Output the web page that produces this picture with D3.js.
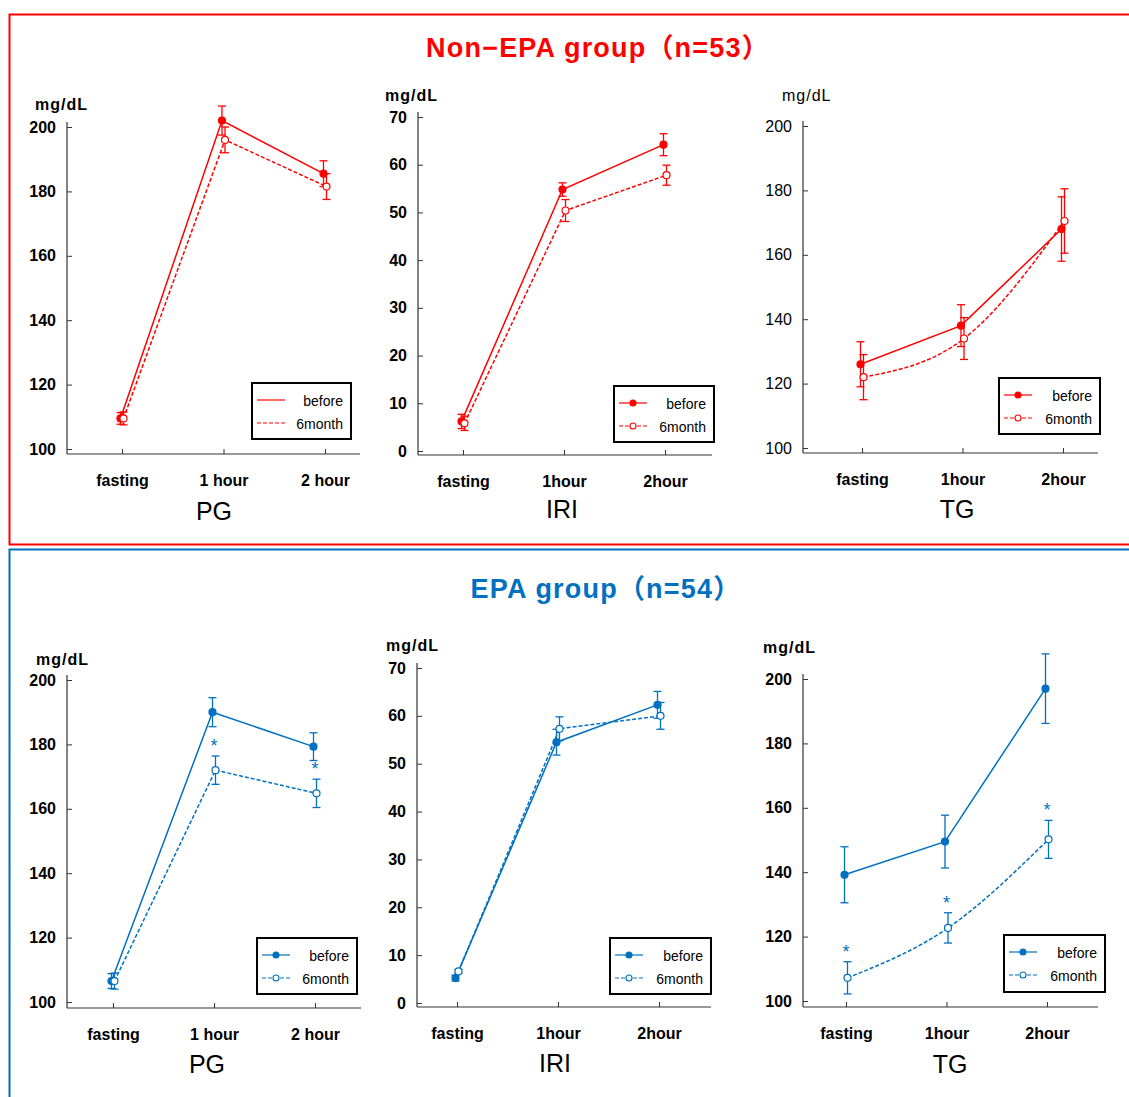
<!DOCTYPE html>
<html>
<head>
<meta charset="utf-8">
<script src="https://cdn.jsdelivr.net/npm/d3@7"></script>
<style>
  body { margin: 0; background: #fff; }
  svg { display: block; font-family: "Liberation Sans", Arial, sans-serif; }
</style>
</head>
<body>
<svg width="1129" height="1097"></svg>
<script>
// categories and ticks
const pgCategories = ["fasting", "1 hour", "2 hour"];
const hourCategories = ["fasting", "1hour", "2hour"];
const pgTicks = [100, 120, 140, 160, 180, 200];
const iriTicks = [0, 10, 20, 30, 40, 50, 60, 70];
const tgTicks = [100, 120, 140, 160, 180, 200];
const seriesNames = ["before", "6month"];

// Non-EPA group (n=53)
const nonEpaPgBefore = [109.5, 202, 185.5];
const nonEpaPgBeforeErr = [1.8, 4.5, 4];
const nonEpaPg6m = [109.5, 196, 181.5];
const nonEpaPg6mErr = [2, 4, 4];
const nonEpaIriBefore = [6.2, 54.8, 64.2];
const nonEpaIriBeforeErr = [1.5, 1.4, 2.3];
const nonEpaIri6m = [5.8, 50.4, 57.8];
const nonEpaIri6mErr = [1.5, 2.3, 2.1];
const nonEpaTgBefore = [126, 138, 168];
const nonEpaTgBeforeErr = [7, 6.5, 10];
const nonEpaTg6m = [122, 134, 170.5];
const nonEpaTg6mErr = [7, 6.5, 10];

// EPA group (n=54)
const epaPgBefore = [106.5, 190, 179.3];
const epaPgBeforeErr = [2.3, 4.5, 4.3];
const epaPg6m = [106.5, 172, 164.8];
const epaPg6mErr = [2.5, 4.4, 4.4];
const epaPgSig = [false, true, true];
const epaIriBefore = [5.2, 54.5, 62.3];
const epaIriBeforeErr = [0.6, 2.7, 2.8];
const epaIri6m = [6.6, 57.3, 60];
const epaIri6mErr = [0.4, 2.5, 2.8];
const epaTgBefore = [139.2, 149.5, 197];
const epaTgBeforeErr = [8.7, 8.2, 10.8];
const epaTg6m = [107.2, 122.7, 150.2];
const epaTg6mErr = [5, 4.7, 5.9];
const epaTgSig = [true, true, true];

const RED = "#ff0000";
const BLUE = "#0070c0";

const svg = d3.select("svg");

// group frames
svg.append("rect").attr("x", 9.5).attr("y", 14.5).attr("width", 1140).attr("height", 530)
  .attr("fill", "none").attr("stroke", RED).attr("stroke-width", 2);
svg.append("rect").attr("x", 9.5).attr("y", 549.5).attr("width", 1140).attr("height", 600)
  .attr("fill", "none").attr("stroke", BLUE).attr("stroke-width", 2);

// group titles
svg.append("text").attr("x", 598).attr("y", 57).attr("text-anchor", "middle")
  .attr("fill", RED).style("font-family", "'Liberation Sans', 'Noto Sans CJK JP', sans-serif")
  .style("font-weight", "bold").style("font-size", "27px").style("letter-spacing", "1.2px")
  .text("Non−EPA group（n=53）");
svg.append("text").attr("x", 606).attr("y", 598).attr("text-anchor", "middle")
  .attr("fill", BLUE).style("font-family", "'Liberation Sans', 'Noto Sans CJK JP', sans-serif")
  .style("font-weight", "bold").style("font-size", "27px").style("letter-spacing", "1.2px")
  .text("EPA group（n=54）");

const panels = [
  { name: "PG", color: RED, cats: pgCategories, ticks: pgTicks,
    before: nonEpaPgBefore, beforeErr: nonEpaPgBeforeErr, after: nonEpaPg6m, afterErr: nonEpaPg6mErr,
    axisX: 67, right: 360, yTop: 127, yBot: 449, axisY: 454, xF: 122, xL: 325,
    unit: [35, 110], title: [214, 520], legend: [252, 383, 99, 56], legendMarkers: false, bold: true },
  { name: "IRI", color: RED, cats: hourCategories, ticks: iriTicks,
    before: nonEpaIriBefore, beforeErr: nonEpaIriBeforeErr, after: nonEpaIri6m, afterErr: nonEpaIri6mErr,
    axisX: 418, right: 712, yTop: 117, yBot: 451, axisY: 455, xF: 463, xL: 665,
    unit: [385, 101], title: [562, 518], legend: [614, 386, 100, 56], legendMarkers: true, bold: true },
  { name: "TG", color: RED, cats: hourCategories, ticks: tgTicks,
    before: nonEpaTgBefore, beforeErr: nonEpaTgBeforeErr, after: nonEpaTg6m, afterErr: nonEpaTg6mErr,
    axisX: 803, right: 1098, yTop: 126, yBot: 448, axisY: 453, xF: 862, xL: 1063,
    unit: [782, 101], title: [957, 518], legend: [999, 378, 101, 56], legendMarkers: true, bold: false, curved: true },
  { name: "PG", color: BLUE, cats: pgCategories, ticks: pgTicks,
    before: epaPgBefore, beforeErr: epaPgBeforeErr, after: epaPg6m, afterErr: epaPg6mErr, sig: epaPgSig,
    axisX: 67, right: 361, yTop: 680, yBot: 1002, axisY: 1008, xF: 113, xL: 315,
    unit: [36, 665], title: [207, 1073], legend: [257, 938, 100, 56], legendMarkers: true, bold: true },
  { name: "IRI", color: BLUE, cats: hourCategories, ticks: iriTicks,
    before: epaIriBefore, beforeErr: epaIriBeforeErr, after: epaIri6m, afterErr: epaIri6mErr,
    axisX: 417, right: 711, yTop: 668, yBot: 1003, axisY: 1007, xF: 457, xL: 659,
    unit: [386, 651], title: [555, 1072], legend: [610, 938, 101, 56], legendMarkers: true, bold: true },
  { name: "TG", color: BLUE, cats: hourCategories, ticks: tgTicks,
    before: epaTgBefore, beforeErr: epaTgBeforeErr, after: epaTg6m, afterErr: epaTg6mErr, sig: epaTgSig,
    axisX: 803, right: 1098, yTop: 679, yBot: 1001, axisY: 1007, xF: 846, xL: 1047,
    unit: [763, 653], title: [950, 1073], legend: [1004, 935, 101, 57], legendMarkers: true, bold: true, curved: true },
];

const drawPanel = (p) => {
  const g = svg.append("g");

  const y = d3.scaleLinear()
    .domain([d3.min(p.ticks), d3.max(p.ticks)])
    .range([p.yBot, p.yTop]);
  const x = d3.scalePoint().domain(p.cats).range([p.xF, p.xL]);

  // y axis
  const yAxis = g.append("g")
    .attr("transform", `translate(${p.axisX},0)`)
    .call(d3.axisLeft(y).tickValues(p.ticks).tickSize(-5).tickPadding(11));
  yAxis.select(".domain").remove();
  yAxis.selectAll(".tick line").attr("stroke", "#333");
  yAxis.selectAll("text")
    .attr("fill", "#000")
    .style("font-size", "16px")
    .style("font-weight", p.bold ? "bold" : "normal");
  g.append("line")
    .attr("x1", p.axisX).attr("x2", p.axisX)
    .attr("y1", p.axisY).attr("y2", p.yTop - 5)
    .attr("stroke", "#333").attr("stroke-width", 1.2);

  // x axis
  const xAxis = g.append("g")
    .attr("transform", `translate(0,${p.axisY})`)
    .call(d3.axisBottom(x).tickSize(-5).tickPadding(21));
  xAxis.select(".domain").remove();
  xAxis.selectAll(".tick line").attr("stroke", "#333");
  xAxis.selectAll("text")
    .attr("fill", "#000")
    .style("font-size", "16px")
    .style("font-weight", "bold");
  g.append("line")
    .attr("x1", p.axisX).attr("x2", p.right)
    .attr("y1", p.axisY).attr("y2", p.axisY)
    .attr("stroke", "#333").attr("stroke-width", 1.2);

  // unit and panel title
  g.append("text").attr("x", p.unit[0]).attr("y", p.unit[1])
    .style("font-size", "16px").style("font-weight", p.bold ? "bold" : "normal")
    .style("letter-spacing", "1px")
    .text("mg/dL");
  g.append("text").attr("x", p.title[0]).attr("y", p.title[1])
    .attr("text-anchor", "middle").style("font-size", "25px")
    .text(p.name);

  const series = [
    { vals: p.before, err: p.beforeErr, dash: null, filled: true, dx: -1.5 },
    { vals: p.after, err: p.afterErr, dash: "4,2", filled: false, dx: 1.5 },
  ];

  series.forEach((s) => {
    const pts = p.cats.map((c, i) => ({ c, v: s.vals[i], e: s.err[i] }));

    // error bars
    const eb = g.append("g").attr("stroke", p.color).attr("stroke-width", 1.3);
    eb.selectAll(".stem").data(pts).join("line")
      .attr("x1", (d) => x(d.c) + s.dx).attr("x2", (d) => x(d.c) + s.dx)
      .attr("y1", (d) => y(d.v + d.e)).attr("y2", (d) => y(d.v - d.e));
    [1, -1].forEach((sign) => {
      eb.selectAll(null).data(pts).join("line")
        .attr("x1", (d) => x(d.c) + s.dx - 4).attr("x2", (d) => x(d.c) + s.dx + 4)
        .attr("y1", (d) => y(d.v + sign * d.e)).attr("y2", (d) => y(d.v + sign * d.e));
    });

    const line = d3.line()
      .x((d) => x(d.c) + s.dx)
      .y((d) => y(d.v))
      .curve(p.curved && !s.filled ? d3.curveMonotoneX : d3.curveLinear);

    g.append("path").datum(pts)
      .attr("d", line)
      .attr("fill", "none")
      .attr("stroke", p.color)
      .attr("stroke-width", 1.5)
      .attr("stroke-dasharray", s.dash);

    g.selectAll(null).data(pts).join("circle")
      .attr("cx", (d) => x(d.c) + s.dx)
      .attr("cy", (d) => y(d.v))
      .attr("r", 3.5)
      .attr("fill", s.filled ? p.color : "#fff")
      .attr("stroke", p.color)
      .attr("stroke-width", 1.2);
  });

  // significance marks
  if (p.sig) {
    const sigPts = p.cats
      .map((c, i) => ({ c, top: p.after[i] + p.afterErr[i], on: p.sig[i] }))
      .filter((d) => d.on);
    g.selectAll(null).data(sigPts).join("text")
      .attr("x", (d) => x(d.c))
      .attr("y", (d) => y(d.top) - 4)
      .attr("text-anchor", "middle")
      .attr("fill", p.color)
      .style("font-size", "18px")
      .text("*");
  }

  // legend
  const [lx, ly, lw, lh] = p.legend;
  const lg = g.append("g");
  lg.append("rect").attr("x", lx).attr("y", ly).attr("width", lw).attr("height", lh)
    .attr("fill", "#fff").attr("stroke", "#000").attr("stroke-width", 2);
  series.forEach((s, i) => {
    const rowY = ly + 17 + i * 23;
    lg.append("line")
      .attr("x1", lx + 5).attr("x2", lx + 33)
      .attr("y1", rowY).attr("y2", rowY)
      .attr("stroke", p.color).attr("stroke-width", 1.2)
      .attr("stroke-dasharray", s.dash);
    if (p.legendMarkers) {
      lg.append("circle").attr("cx", lx + 19).attr("cy", rowY).attr("r", 3)
        .attr("fill", s.filled ? p.color : "#fff")
        .attr("stroke", p.color).attr("stroke-width", 1.1);
    }
    lg.append("text")
      .attr("x", lx + lw - 8).attr("y", rowY + 6)
      .attr("text-anchor", "end")
      .style("font-size", "14px")
      .text(seriesNames[i]);
  });
};

panels.forEach(drawPanel);
</script>
</body>
</html>
